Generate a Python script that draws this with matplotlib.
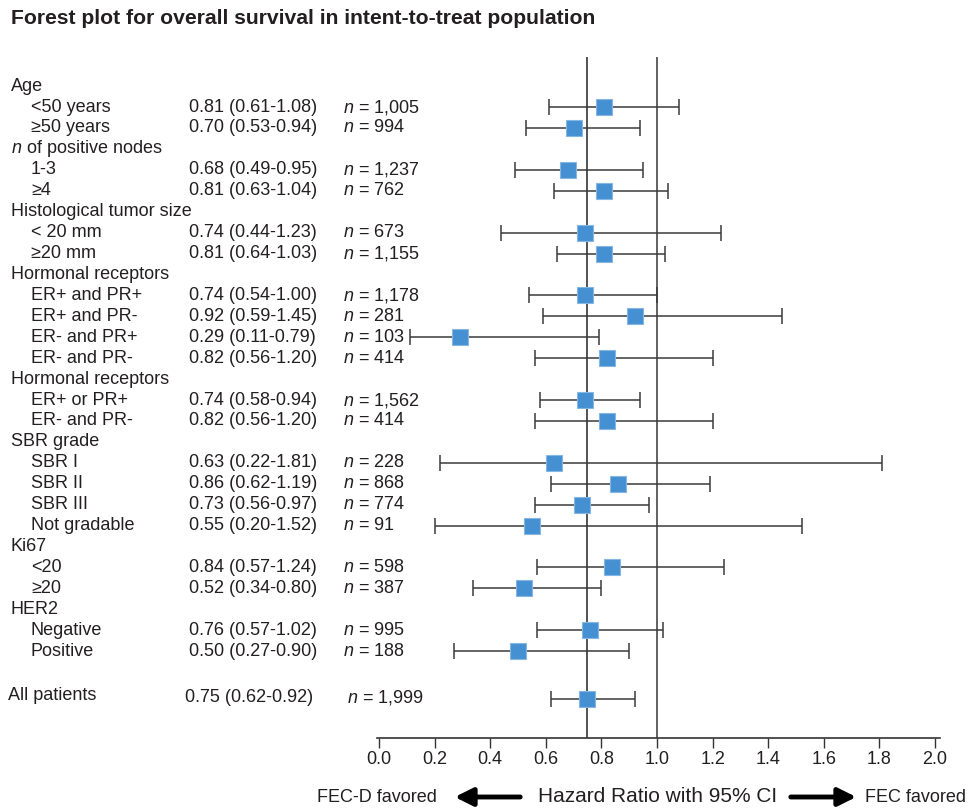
import matplotlib
matplotlib.use("Agg")
import matplotlib.pyplot as plt
import matplotlib.transforms as mtransforms
from matplotlib.patches import FancyArrowPatch

plt.rcParams['font.family'] = ['Liberation Sans', 'DejaVu Sans']
plt.rcParams['mathtext.fontset'] = 'custom'
plt.rcParams['mathtext.it'] = 'Liberation Sans:italic'
plt.rcParams['mathtext.rm'] = 'Liberation Sans'

labels = ["Age", "<50 years", "≥50 years",
          "$\\it{n}$ of positive nodes", "1-3", "≥4",
          "Histological tumor size", "< 20 mm", "≥20 mm",
          "Hormonal receptors", "ER+ and PR+", "ER+ and PR-", "ER- and PR+", "ER- and PR-",
          "Hormonal receptors", "ER+ or PR+", "ER- and PR-",
          "SBR grade", "SBR I", "SBR II", "SBR III", "Not gradable",
          "Ki67", "<20", "≥20",
          "HER2", "Negative", "Positive"]

# subgroup data (None for header rows)
hr = [None, 0.81, 0.70, None, 0.68, 0.81, None, 0.74, 0.81,
      None, 0.74, 0.92, 0.29, 0.82, None, 0.74, 0.82,
      None, 0.63, 0.86, 0.73, 0.55, None, 0.84, 0.52, None, 0.76, 0.50]
lo = [None, 0.61, 0.53, None, 0.49, 0.63, None, 0.44, 0.64,
      None, 0.54, 0.59, 0.11, 0.56, None, 0.58, 0.56,
      None, 0.22, 0.62, 0.56, 0.20, None, 0.57, 0.34, None, 0.57, 0.27]
hi = [None, 1.08, 0.94, None, 0.95, 1.04, None, 1.23, 1.03,
      None, 1.00, 1.45, 0.79, 1.20, None, 0.94, 1.20,
      None, 1.81, 1.19, 0.97, 1.52, None, 1.24, 0.80, None, 1.02, 0.90]
n_pat = [None, "1,005", "994", None, "1,237", "762", None, "673", "1,155",
         None, "1,178", "281", "103", "414", None, "1,562", "414",
         None, "228", "868", "774", "91", None, "598", "387", None, "995", "188"]

overall_hr, overall_lo, overall_hi, overall_n = 0.75, 0.62, 0.92, "1,999"
overall_row = 29.3

xticks = [0.0, 0.2, 0.4, 0.6, 0.8, 1.0, 1.2, 1.4, 1.6, 1.8, 2.0]

W, H = 968, 809
fig = plt.figure(figsize=(W / 100, H / 100), dpi=100)
ax = fig.add_axes([377 / W, 1 - 738 / H, (940 - 377) / W, (738 - 57) / H])
ax.set_xlim(-0.007, 2.018)
ax.set_ylim(31.15, -1.39)

box_color = '#4590d3'
line_color = '#3a3a3a'
text_color = '#231f20'

# reference lines
ax.axvline(1.0, color='#555555', lw=1.3, zorder=1)
ax.axvline(overall_hr, color='#444444', lw=1.3, zorder=1)

trans = mtransforms.blended_transform_factory(fig.transFigure, ax.transData)
fs = 13


def draw_row(y, lo_v, hr_v, hi_v):
    ax.errorbar(hr_v, y, xerr=[[hr_v - lo_v], [hi_v - hr_v]], fmt='none',
                ecolor=line_color, elinewidth=1.1, capsize=5.8, capthick=1.1, zorder=2)
    ax.plot(hr_v, y, marker='s', markersize=11, color=box_color,
            markeredgecolor='#86b6e2', markeredgewidth=0.8, zorder=3)


for i, lab in enumerate(labels):
    if hr[i] is None:
        ax.text(11 / W, i, lab, transform=trans, fontsize=fs, va='center', color=text_color)
        continue
    ax.text(31 / W, i, lab, transform=trans, fontsize=fs, va='center', color=text_color)
    ax.text(189 / W, i, f"{hr[i]:.2f} ({lo[i]:.2f}-{hi[i]:.2f})", transform=trans,
            fontsize=fs, va='center', color=text_color)
    ax.text(343 / W, i, f"$\\it{{n}}$ = {n_pat[i]}", transform=trans, fontsize=fs,
            va='center', color=text_color)
    draw_row(i, lo[i], hr[i], hi[i])

# overall
ax.text(8 / W, overall_row - 0.2, "All patients", transform=trans, fontsize=fs,
        va='center', color=text_color)
ax.text(185 / W, overall_row - 0.1, f"{overall_hr:.2f} ({overall_lo:.2f}-{overall_hi:.2f})",
        transform=trans, fontsize=fs, va='center', color=text_color)
ax.text(347 / W, overall_row - 0.1, f"$\\it{{n}}$ = {overall_n}", transform=trans,
        fontsize=fs, va='center', color=text_color)
draw_row(overall_row, overall_lo, overall_hr, overall_hi)

# axes styling
for side in ['top', 'left', 'right']:
    ax.spines[side].set_visible(False)
ax.spines['bottom'].set_color('#333333')
ax.spines['bottom'].set_linewidth(1.2)
ax.set_yticks([])
ax.set_xticks(xticks)
ax.set_xticklabels([f"{t:.1f}" for t in xticks], fontsize=fs, color=text_color)
ax.tick_params(axis='x', direction='out', length=7, width=1, color='#333333', pad=2)

# title
fig.text(11 / W, 1 - 18 / H, "Forest plot for overall survival in intent-to-treat population",
         fontsize=15.2, fontweight='bold', va='center', color=text_color)

# bottom annotation
yb = 1 - 797 / H
fig.text(317 / W, yb, "FEC-D favored", fontsize=13, va='center', color=text_color)
fig.text(538 / W, yb, "Hazard Ratio with 95% CI", fontsize=15, va='center', color=text_color)
fig.text(865 / W, yb, "FEC favored", fontsize=13, va='center', color=text_color)
arrow_kw = dict(arrowstyle='-|>,head_length=0.9,head_width=0.45', color='black', lw=3.5,
                transform=fig.transFigure, mutation_scale=12)
fig.add_artist(FancyArrowPatch((523 / W, yb), (452 / W, yb), **arrow_kw))
fig.add_artist(FancyArrowPatch((788 / W, yb), (859 / W, yb), **arrow_kw))

fig.savefig("out.png", dpi=100)
